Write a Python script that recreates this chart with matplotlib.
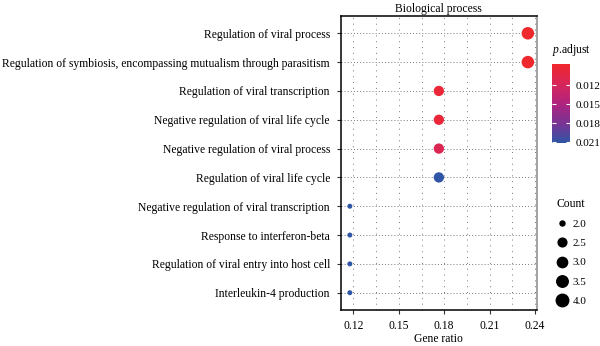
import matplotlib.pyplot as plt
import numpy as np
from matplotlib.colors import LinearSegmentedColormap, Normalize
from matplotlib.cm import ScalarMappable
from matplotlib.lines import Line2D

plt.rcParams['font.family'] = ['Liberation Serif', 'DejaVu Serif']
plt.rcParams['mathtext.fontset'] = 'custom'
plt.rcParams['mathtext.it'] = 'Liberation Serif:italic'
plt.rcParams['mathtext.rm'] = 'Liberation Serif'

# GO terms, top to bottom
terms = [
    "Regulation of viral process",
    "Regulation of symbiosis, encompassing mutualism through parasitism",
    "Regulation of viral transcription",
    "Negative regulation of viral life cycle",
    "Negative regulation of viral process",
    "Regulation of viral life cycle",
    "Negative regulation of viral transcription",
    "Response to interferon-beta",
    "Regulation of viral entry into host cell",
    "Interleukin-4 production",
]
counts = [4, 4, 3, 3, 3, 3, 2, 2, 2, 2]
gene_total = 17
gene_ratio = [c / gene_total for c in counts]
p_adjust = [0.0087, 0.0087, 0.0094, 0.0095, 0.0112, 0.0211, 0.0211, 0.0211, 0.0211, 0.0211]

p_ticks = [0.012, 0.015, 0.018, 0.021]
count_levels = [2.0, 2.5, 3.0, 3.5, 4.0]

cmap = LinearSegmentedColormap.from_list(
    "padj", ["#F0282C", "#D8255A", "#B0237E", "#7A3394", "#2F56A6"])
norm = Normalize(vmin=0.0086, vmax=0.0211)


def dot_diam(c):
    # diameter in points, area-style scaling between count 2 and 4
    frac = np.clip((np.asarray(c) - 2.0) / 2.0, 0, 1)
    return 3.6 + 5.4 * np.sqrt(frac)


fig = plt.figure(figsize=(6.0, 3.46), dpi=100)
ax = fig.add_axes([341 / 600, 1 - 310 / 346, 195.5 / 600, 294 / 346])

ypos = np.arange(len(terms))[::-1]
ax.scatter(gene_ratio, ypos, s=dot_diam(counts) ** 2, c=p_adjust,
           cmap=cmap, norm=norm, edgecolors='none', zorder=3)

ax.set_xlim(0.1118, 0.2410)
ax.set_ylim(-0.6, len(terms) - 0.4)
ax.set_xticks([0.12, 0.15, 0.18, 0.21, 0.24])
ax.set_xticklabels(["0.12", "0.15", "0.18", "0.21", "0.24"])
ax.set_yticks(ypos)
ax.set_yticklabels(terms)
ax.tick_params(axis='both', labelsize=8.4, length=3, width=0.8, color='#333333')
ax.tick_params(axis='y', pad=5)
ax.tick_params(axis='x', pad=4)

# dotted grid: rows, major and minor x
for y in ypos:
    ax.axhline(y, color='#777777', lw=0.7, ls=(0, (1, 2.2)), zorder=1)
for x in np.arange(0.12, 0.2401, 0.015):
    ax.axvline(x, color='#777777', lw=0.7, ls=(0, (1, 5)), zorder=1)

for side in ['left', 'bottom', 'top']:
    ax.spines[side].set_color('black')
    ax.spines[side].set_linewidth(1.1)
ax.spines['right'].set_color('#888888')
ax.spines['right'].set_linewidth(1.1)

ax.set_title("Biological process", fontsize=8.4, pad=3)
ax.set_xlabel("Gene ratio", fontsize=8.4, labelpad=1)

# colour bar for p.adjust
cax = fig.add_axes([552 / 600, 1 - 143 / 346, 18 / 600, 79 / 346])
cb = fig.colorbar(ScalarMappable(norm=norm, cmap=cmap), cax=cax)
cb.outline.set_visible(False)
cb.set_ticks(p_ticks)
cb.set_ticklabels([f"{t:.3f}" for t in p_ticks])
cax.invert_yaxis()
cax.tick_params(axis='y', direction='in', color='white', length=3, width=0.8,
                left=True, right=True, labelsize=8, pad=4)
fig.text(552 / 600, 1 - 50 / 346, r"$p$.adjust", fontsize=8.4,
         ha='left', va='center')

# size legend for Count
handles = [Line2D([], [], ls='none', marker='o', color='black',
                  markersize=float(dot_diam(c))) for c in count_levels]
fig.legend(handles, [f"{c:.1f}" for c in count_levels], title="Count",
           loc='upper left', bbox_to_anchor=(548 / 600, 1 - 190 / 346),
           frameon=False, fontsize=8, title_fontsize=8.4,
           labelspacing=0.85, handletextpad=0.3, handlelength=1.2,
           borderpad=0.2)

fig.savefig("out.png", dpi=100)
